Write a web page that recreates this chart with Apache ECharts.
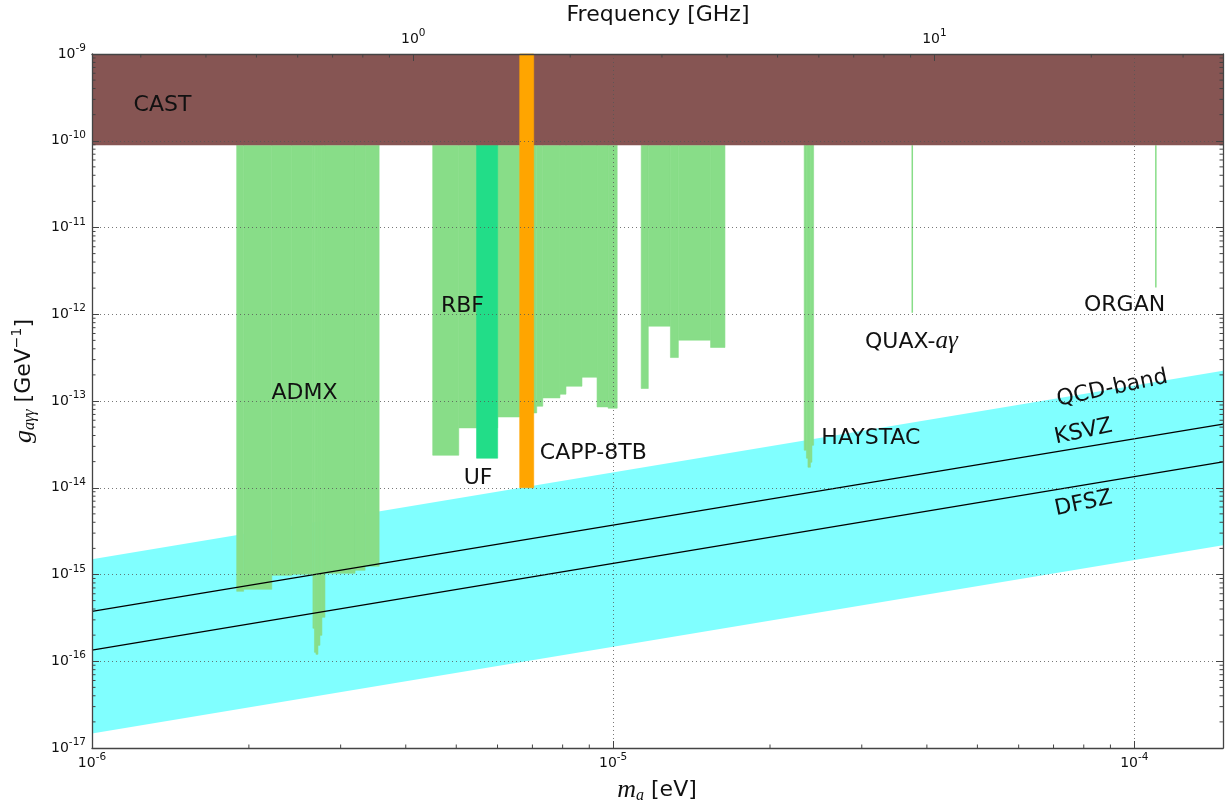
<!DOCTYPE html>
<html><head><meta charset="utf-8">
<script src="https://cdn.jsdelivr.net/npm/echarts@6/dist/echarts.min.js"></script>
<style>html,body{margin:0;padding:0;background:#fff}#c{width:1225px;height:805px}</style>
</head><body><div id="c"></div>
<script>
// ---------------- data (m_a in eV, g_agg in GeV^-1) ----------------
const massRange = [1e-6, 1.48e-4];
const gRange = [1e-17, 1e-9];
const EV_TO_GHZ = 2.418e5;             // frequency [GHz] per eV of axion mass
const castBand = [8.9e-11, 1e-9];      // CAST excluded coupling range (whole mass range)

// steps: [m_start, m_end, g_limit]
const admxSteps = [
  [1.895e-6, 1.954e-6, 6.40e-16],
  [1.954e-6, 2.213e-6, 6.75e-16],
  [2.213e-6, 2.416e-6, 9.79e-16],
  [2.416e-6, 2.654e-6, 1.005e-15],
  [2.654e-6, 2.672e-6, 2.40e-16],
  [2.672e-6, 2.690e-6, 1.267e-16],
  [2.690e-6, 2.714e-6, 1.201e-16],
  [2.714e-6, 2.738e-6, 1.526e-16],
  [2.738e-6, 2.762e-6, 1.99e-16],
  [2.762e-6, 2.799e-6, 3.21e-16],
  [2.799e-6, 3.197e-6, 1.032e-15],
  [3.197e-6, 3.342e-6, 1.118e-15],
  [3.342e-6, 3.556e-6, 1.243e-15]
];
const rbfSteps = [
  [4.506e-6, 5.056e-6, 2.37e-14],
  [5.056e-6, 5.469e-6, 4.90e-14],
  [5.469e-6, 6.004e-6, 4.90e-14],
  [6.004e-6, 6.618e-6, 6.55e-14],
  [6.618e-6, 7.041e-6, 7.29e-14],
  [7.041e-6, 7.135e-6, 7.29e-14],
  [7.135e-6, 7.328e-6, 8.71e-14],
  [7.328e-6, 7.906e-6, 1.086e-13],
  [7.906e-6, 8.119e-6, 1.198e-13],
  [8.119e-6, 8.714e-6, 1.481e-13],
  [8.714e-6, 9.314e-6, 1.881e-13],
  [9.314e-6, 9.781e-6, 8.55e-14],
  [9.781e-6, 1.018e-5, 8.26e-14]
];
const ufSteps = [
  [5.469e-6, 6.004e-6, 2.19e-14]
];
const cappSteps = [
  [1.132e-5, 1.168e-5, 1.393e-13],
  [1.168e-5, 1.288e-5, 7.29e-13],
  [1.288e-5, 1.334e-5, 3.17e-13],
  [1.334e-5, 1.538e-5, 5.03e-13],
  [1.538e-5, 1.639e-5, 4.14e-13]
];
const haystacSteps = [
  [2.326e-5, 2.349e-5, 2.71e-14],
  [2.349e-5, 2.365e-5, 2.19e-14],
  [2.365e-5, 2.391e-5, 1.723e-14],
  [2.391e-5, 2.407e-5, 1.968e-14],
  [2.407e-5, 2.425e-5, 3.09e-14]
];
const capp8tbSteps = [
  [6.618e-6, 7.041e-6, 1.0e-14]
];
// thin single-frequency exclusions: [mass, g_limit]
const quaxLine = [3.75e-5, 1.04e-12];
const organLine = [1.10e-4, 2.04e-12];

// QCD model lines and band: [[m, g], [m, g]]
const ksvzLine = [[1e-6, 3.76e-16], [1.48e-4, 5.40e-14]];
const dfszLine = [[1e-6, 1.346e-16], [1.48e-4, 1.984e-14]];
const qcdUpper = [[1e-6, 1.497e-15], [1.48e-4, 2.225e-13]];
const qcdLower = [[1e-6, 1.474e-17], [1.48e-4, 2.172e-15]];

// text annotations
const annotations = [
  {text: 'CAST', at: [1.365e-6, 2.58e-10]},
  {text: 'ADMX', at: [2.557e-6, 1.24e-13]},
  {text: 'RBF', at: [5.14e-6, 1.24e-12]},
  {text: 'UF', at: [5.505e-6, 1.277e-14]},
  {text: 'CAPP-8TB', at: [9.16e-6, 2.48e-14]},
  {text: 'HAYSTAC', at: [3.123e-5, 3.69e-14]},
  {text: 'QUAX-{m|aγ}', at: [3.735e-5, 4.80e-13]},
  {text: 'ORGAN', at: [9.58e-5, 1.274e-12]},
  {text: 'QCD-band', at: [9.07e-5, 1.393e-13], rot: 12},
  {text: 'KSVZ', at: [7.99e-5, 4.40e-14], rot: 12},
  {text: 'DFSZ', at: [7.99e-5, 6.57e-15], rot: 12}
];

// ---------------- styling ----------------
const GREEN = '#88dd88', UFGREEN = '#22dd88', ORANGE = '#ffa500', CASTC = '#865553', CYAN = '#80ffff';
const SANS = 'DejaVu Sans';

function decadeLabel(v) {
  const e = Math.log10(v);
  const r = Math.round(e);
  if (Math.abs(e - r) > 1e-6) return '';
  return '{b|10}{s|' + r + '}';
}
const tickRich = {
  b: {fontSize: 14, fontFamily: SANS, color: '#111', lineHeight: 22},
  s: {fontSize: 10.5, fontFamily: SANS, color: '#111', lineHeight: 8, verticalAlign: 'top'}
};
const gridLine = {show: true, lineStyle: {color: '#555', width: 0.8, type: [1, 3]}};
const axisLineStyle = {show: true, lineStyle: {color: '#444', width: 1.3}};

function stepSeries(name, steps, top, color, z) {
  return {
    type: 'custom', name: name, z: z, silent: true,
    xAxisIndex: 0, yAxisIndex: 0,
    encode: {x: [0, 1], y: 2},
    data: steps,
    renderItem: function (params, api) {
      const p0 = api.coord([api.value(0), top]);
      const p1 = api.coord([api.value(1), api.value(2)]);
      return {
        type: 'rect',
        shape: {x: p0[0], y: p0[1], width: p1[0] - p0[0], height: p1[1] - p0[1]},
        style: {fill: color, stroke: color, lineWidth: 0.6}
      };
    }
  };
}

// minor tick positions (axis decoration)
const xMinor = [], yMinor = [], fMinor = [];
for (let d = -6; d <= -4; d++) for (let k = 2; k <= 9; k++) { const v = k * Math.pow(10, d); if (v < massRange[1]) xMinor.push(v); }
for (let d = -17; d <= -10; d++) for (let k = 2; k <= 9; k++) yMinor.push(k * Math.pow(10, d));
for (let d = -1; d <= 1; d++) for (let k = 2; k <= 9; k++) { const f = k * Math.pow(10, d); const m = f / EV_TO_GHZ; if (m > massRange[0] && m < massRange[1]) fMinor.push(m); }

const chart = echarts.init(document.getElementById('c'), null, {renderer: 'canvas'});
const option = {
  animation: false,
  backgroundColor: '#fff',
  grid: {left: 92, right: 2, top: 54, bottom: 57, containLabel: false},
  xAxis: [
    {
      type: 'log', logBase: 10, position: 'bottom', min: massRange[0], max: massRange[1], z: 10,
      axisLine: axisLineStyle,
      axisTick: {show: true, inside: true, length: 7, lineStyle: {color: '#444', width: 1}},
      axisLabel: {formatter: decadeLabel, rich: tickRich, margin: 4, showMaxLabel: false},
      splitLine: gridLine
    },
    {
      type: 'log', logBase: 10, position: 'top', min: massRange[0] * EV_TO_GHZ, max: massRange[1] * EV_TO_GHZ, z: 10,
      axisLine: axisLineStyle,
      axisTick: {show: true, inside: true, length: 7, lineStyle: {color: '#444', width: 1}},
      axisLabel: {formatter: decadeLabel, rich: tickRich, margin: 4, showMinLabel: false, showMaxLabel: false},
      splitLine: {show: false}
    }
  ],
  yAxis: [
    {
      type: 'log', logBase: 10, position: 'left', min: gRange[0], max: gRange[1], z: 10,
      axisLine: axisLineStyle,
      axisTick: {show: true, inside: true, length: 7, lineStyle: {color: '#444', width: 1}},
      axisLabel: {formatter: decadeLabel, rich: tickRich, margin: 6},
      splitLine: gridLine
    },
    {
      type: 'log', logBase: 10, position: 'right', min: gRange[0], max: gRange[1], z: 10,
      axisLine: axisLineStyle,
      axisTick: {show: true, inside: true, length: 7, lineStyle: {color: '#444', width: 1}},
      axisLabel: {show: false},
      splitLine: {show: false}
    }
  ],
  graphic: [
    {type: 'text', x: 658, y: 15, z: 20, style: {text: 'Frequency [GHz]', fontSize: 22, fontFamily: SANS, fill: '#111', align: 'center', verticalAlign: 'middle'}},
    {type: 'text', x: 657, y: 790, z: 20, style: {
      text: '{i|m}{sub|a} [eV]', fontSize: 22, fontFamily: SANS, fill: '#111', align: 'center', verticalAlign: 'middle', lineHeight: 28,
      rich: {
        i: {fontFamily: 'Liberation Serif', fontStyle: 'italic', fontSize: 26, lineHeight: 28, fill: '#111'},
        sub: {fontFamily: 'Liberation Serif', fontStyle: 'italic', fontSize: 16, lineHeight: 16, verticalAlign: 'bottom', fill: '#111'}
      }}},
    {type: 'text', x: 24, y: 381, z: 20, rotation: Math.PI / 2, style: {
      text: '{g|g}{sub|aγγ} [GeV{sup|−1}]', fontSize: 22, fontFamily: SANS, fill: '#111', align: 'center', verticalAlign: 'middle', lineHeight: 28,
      rich: {
        g: {fontFamily: 'Liberation Serif', fontStyle: 'italic', fontSize: 26, lineHeight: 28, fill: '#111'},
        sub: {fontFamily: 'Liberation Serif', fontStyle: 'italic', fontSize: 16, lineHeight: 16, verticalAlign: 'bottom', fill: '#111'},
        sup: {fontFamily: SANS, fontSize: 14, lineHeight: 12, verticalAlign: 'top', fill: '#111'}
      }}}
  ],
  series: [
    {
      type: 'custom', name: 'QCD-band', z: 1, silent: true,
      encode: {x: [0, 2, 4, 6], y: [1, 3, 5, 7]},
      data: [[qcdUpper[0][0], qcdUpper[0][1], qcdUpper[1][0], qcdUpper[1][1], qcdLower[1][0], qcdLower[1][1], qcdLower[0][0], qcdLower[0][1]]],
      renderItem: function (params, api) {
        const pts = [0, 1, 2, 3].map(function (k) { return api.coord([api.value(2 * k), api.value(2 * k + 1)]); });
        return {type: 'polygon', shape: {points: pts}, style: {fill: CYAN}};
      }
    },
    stepSeries('ADMX', admxSteps, castBand[0], GREEN, 2),
    stepSeries('RBF', rbfSteps, castBand[0], GREEN, 2),
    stepSeries('CAPP', cappSteps, castBand[0], GREEN, 2),
    stepSeries('HAYSTAC', haystacSteps, castBand[0], GREEN, 2),
    stepSeries('UF', ufSteps, castBand[0], UFGREEN, 3),
    {
      type: 'line', name: 'QUAX', z: 3, silent: true, symbol: 'none',
      data: [[quaxLine[0], castBand[0]], [quaxLine[0], quaxLine[1]]],
      lineStyle: {color: GREEN, width: 1.5}
    },
    {
      type: 'line', name: 'ORGAN', z: 3, silent: true, symbol: 'none',
      data: [[organLine[0], castBand[0]], [organLine[0], organLine[1]]],
      lineStyle: {color: GREEN, width: 1.5}
    },
    {
      type: 'line', name: 'KSVZ', z: 4, silent: true, symbol: 'none', data: ksvzLine,
      lineStyle: {color: '#000', width: 1.3}
    },
    {
      type: 'line', name: 'DFSZ', z: 4, silent: true, symbol: 'none', data: dfszLine,
      lineStyle: {color: '#000', width: 1.3}
    },
    {
      type: 'custom', name: 'CAST', z: 5, silent: true,
      encode: {x: [0, 1], y: [2, 3]},
      data: [[massRange[0], massRange[1], castBand[0], castBand[1]]],
      renderItem: function (params, api) {
        const p0 = api.coord([api.value(0), api.value(3)]);
        const p1 = api.coord([api.value(1), api.value(2)]);
        return {type: 'rect', shape: {x: p0[0], y: p0[1], width: p1[0] - p0[0], height: p1[1] - p0[1]}, style: {fill: CASTC}};
      }
    },
    stepSeries('CAPP-8TB', capp8tbSteps, castBand[1], ORANGE, 6),
    {
      type: 'custom', name: 'labels', z: 7, silent: true,
      data: annotations.map(function (a) { return a.at; }),
      renderItem: function (params, api) {
        const a = annotations[params.dataIndex];
        const p = api.coord([api.value(0), api.value(1)]);
        return {
          type: 'text', x: p[0], y: p[1], rotation: (a.rot || 0) * Math.PI / 180,
          style: {
            text: a.text, fontSize: 22, fontFamily: SANS, fill: '#111', align: 'center', verticalAlign: 'middle',
            rich: {m: {fontFamily: 'Liberation Serif', fontStyle: 'italic', fontSize: 25, fill: '#111'}}
          }
        };
      }
    },
    {
      type: 'custom', name: 'minorTicks', z: 12, silent: true,
      data: [[massRange[0], gRange[0]]],
      renderItem: function (params, api) {
        const cs = params.coordSys;
        const top = cs.y, bottom = cs.y + cs.height, left = cs.x, right = cs.x + cs.width;
        const L = 3.5;
        const els = [];
        const st = {stroke: '#444', lineWidth: 1};
        xMinor.forEach(function (m) {
          const x = api.coord([m, gRange[0]])[0];
          els.push({type: 'line', shape: {x1: x, y1: bottom, x2: x, y2: bottom - L}, style: st});
        });
        fMinor.forEach(function (m) {
          const x = api.coord([m, gRange[0]])[0];
          els.push({type: 'line', shape: {x1: x, y1: top, x2: x, y2: top + L}, style: st});
        });
        yMinor.forEach(function (g) {
          const y = api.coord([massRange[0], g])[1];
          els.push({type: 'line', shape: {x1: left, y1: y, x2: left + L, y2: y}, style: st});
          els.push({type: 'line', shape: {x1: right, y1: y, x2: right - L, y2: y}, style: st});
        });
        return {type: 'group', children: els};
      }
    }
  ]
};
chart.setOption(option);
</script>
</body></html>
